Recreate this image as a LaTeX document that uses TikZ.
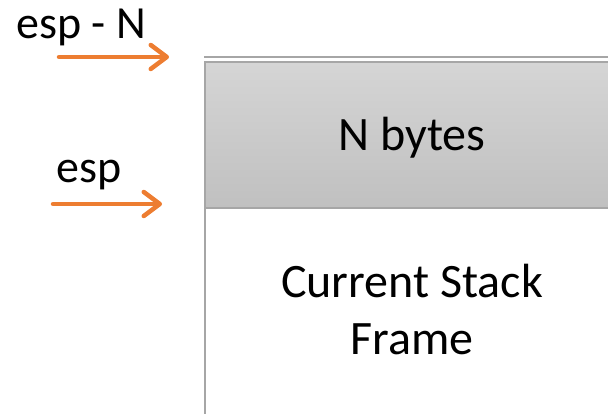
\documentclass[tikz,border=0pt]{standalone}
\usepackage{fontspec}
\setmainfont{Carlito}
\usetikzlibrary{arrows.meta,positioning}
\definecolor{ptr}{HTML}{ED7D31}
\definecolor{edge}{HTML}{A6A6A6}
\definecolor{celltop}{HTML}{D5D5D5}
\definecolor{cellbot}{HTML}{C0C0C0}
\tikzset{
  cell/.style={draw=edge, line width=2pt, rectangle, inner sep=0pt, anchor=north west},
  big/.style={font=\fontsize{48}{57}\selectfont, align=center, inner sep=0pt},
  lbl/.style={font=\fontsize{46}{52}\selectfont, inner sep=0pt, anchor=base west},
  pointer/.style={draw=ptr, line width=4.5pt, line cap=round,
    -{Straight Barb[round, length=16pt, width=24pt]}},
}
\begin{document}
\begin{tikzpicture}[x=1pt, y=-1pt]
  \useasboundingbox (0,0) rectangle (608,414);
  % stack cells: the newly reserved block on top of the current frame
  \draw[edge, line width=2pt] (204,57) -- (640,57);
  \node[cell, top color=celltop, bottom color=cellbot,
        minimum width=436pt, minimum height=146pt] (nbytes) at (204,61) {};
  \node[cell, fill=white, minimum width=436pt, minimum height=240pt] (frame) at (204,207) {};
  \node[big, anchor=base] (nbtext) at (412,151) {N bytes};
  \node[big, anchor=base] (frtext) at (412,354) {Current Stack\\Frame};
  % stack pointer labels and arrows
  \node[lbl] (espn) at (16,39) {esp - N};
  \node[lbl] (esp) at (56,183) {esp};
  \coordinate (p1s) at (59,57);
  \coordinate (p1e) at (169,57);
  \coordinate (p2s) at (53,204);
  \coordinate (p2e) at (162,204);
  \draw[pointer] (p1s) -- (p1e);
  \draw[pointer] (p2s) -- (p2e);
\end{tikzpicture}
\end{document}
